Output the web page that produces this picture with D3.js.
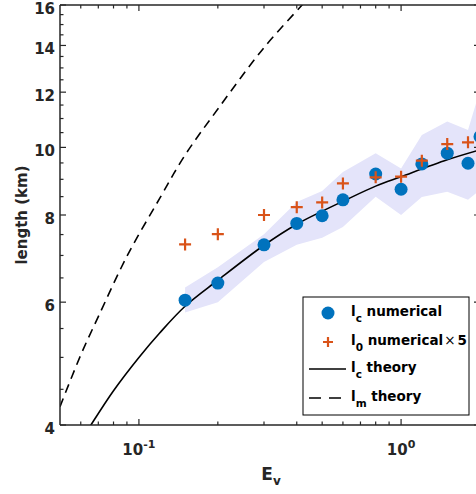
<!DOCTYPE html>
<html>
<head>
<meta charset="utf-8">
<script src="https://cdn.jsdelivr.net/npm/d3@7"></script>
<style>
  body { margin: 0; background: #fff; }
  svg { display: block; font-family: "DejaVu Sans", sans-serif; font-weight: bold; }
</style>
</head>
<body>
<div id="chart"></div>
<script>
// E_v values of the numerical runs
const ev = [0.15, 0.2, 0.3, 0.4, 0.5, 0.6, 0.8, 1.0, 1.2, 1.5, 1.8, 2.0];
// l_c numerical (km)
const lcNum = [6.04, 6.39, 7.25, 7.78, 7.98, 8.41, 9.16, 8.71, 9.47, 9.81, 9.49, 10.36];
// l_0 numerical x 5 (km)
const l0Num = [7.26, 7.51, 8.0, 8.21, 8.34, 8.88, 9.06, 9.08, 9.57, 10.11, 10.17];
// spread of l_c (shaded band)
const bandLow = [5.80, 6.00, 6.85, 7.25, 7.42, 7.69, 8.50, 8.00, 8.49, 8.64, 8.41, 8.69];
const bandHigh = [6.30, 6.73, 7.51, 8.35, 8.66, 9.22, 9.81, 9.33, 10.42, 10.89, 10.59, 12.08];
// l_c theory
const lcTheoryE = [0.06, 0.0656, 0.08, 0.1, 0.12, 0.15, 0.2, 0.3, 0.4, 0.5, 0.6, 0.8, 1.0, 1.5, 2.0];
const lcTheoryL = [3.79, 4.0, 4.48, 5.0, 5.42, 5.92, 6.45, 7.24, 7.76, 8.1, 8.37, 8.8, 9.08, 9.6, 9.92];
// l_m theory
const lmTheoryE = [0.05, 0.06, 0.07, 0.09, 0.12, 0.15, 0.2, 0.3, 0.419, 0.45];
const lmTheoryL = [4.25, 5.04, 5.72, 6.98, 8.45, 9.75, 11.35, 13.9, 16.0, 16.5];

const xTicks = [0.1, 1];
const xMinor = [0.06, 0.07, 0.08, 0.09, 0.2, 0.3, 0.4, 0.5, 0.6, 0.7, 0.8, 0.9, 2];
const yTicks = [4, 6, 8, 10, 12, 14, 16];
const yMinor = d3.range(4.5, 16, 0.5).filter(v => v % 2 !== 0);

const W = 476, H = 494;
const margin = {top: 5, right: -4, bottom: 69, left: 60};
const width = W - margin.left - margin.right;
const height = H - margin.top - margin.bottom;

const svg = d3.select("#chart").append("svg")
    .attr("width", W)
    .attr("height", H);

const g = svg.append("g")
    .attr("transform", `translate(${margin.left},${margin.top})`);

const x = d3.scaleLog().domain([0.05, 2]).range([0, width]);
const y = d3.scaleLog().domain([4, 16]).range([height, 0]);

g.append("clipPath").attr("id", "clip")
  .append("rect").attr("width", width).attr("height", height);

const plot = g.append("g").attr("clip-path", "url(#clip)");

// shaded band
const band = ev.map((e, i) => ({e: e, lo: bandLow[i], hi: bandHigh[i]}));
plot.append("path")
    .datum(band)
    .attr("fill", "#e4e4fa")
    .attr("d", d3.area()
        .x(d => x(d.e))
        .y0(d => y(d.lo))
        .y1(d => y(d.hi)));

// theory curves
const line = d3.line().x(d => x(d[0])).y(d => y(d[1])).curve(d3.curveCatmullRom.alpha(0.5));
plot.append("path")
    .datum(lmTheoryE.map((e, i) => [e, lmTheoryL[i]]))
    .attr("fill", "none")
    .attr("stroke", "#000")
    .attr("stroke-width", 1.6)
    .attr("stroke-dasharray", "9,6")
    .attr("d", line);

plot.append("path")
    .datum(lcTheoryE.map((e, i) => [e, lcTheoryL[i]]))
    .attr("fill", "none")
    .attr("stroke", "#000")
    .attr("stroke-width", 1.6)
    .attr("d", line);

// numerical points
plot.selectAll(".dot")
    .data(ev.map((e, i) => [e, lcNum[i]]))
    .enter().append("circle")
    .attr("class", "dot")
    .attr("cx", d => x(d[0]))
    .attr("cy", d => y(d[1]))
    .attr("r", 6.5)
    .attr("fill", "#0072bd");

plot.selectAll(".plus")
    .data(l0Num.map((v, i) => [ev[i], v]))
    .enter().append("path")
    .attr("class", "plus")
    .attr("transform", d => `translate(${x(d[0])},${y(d[1])})`)
    .attr("d", "M-6,0H6M0,-6V6")
    .attr("stroke", "#d95319")
    .attr("stroke-width", 2.2);

// axes box
const axisColor = "#262626";
g.append("line").attr("x1", 0).attr("x2", 0).attr("y1", 0).attr("y2", height)
    .attr("stroke", axisColor).attr("stroke-width", 1.5);
g.append("line").attr("x1", 0).attr("x2", width).attr("y1", height).attr("y2", height)
    .attr("stroke", axisColor).attr("stroke-width", 1.5);
g.append("line").attr("x1", 0).attr("x2", width).attr("y1", 0).attr("y2", 0)
    .attr("stroke", axisColor).attr("stroke-width", 1.5);
g.append("line").attr("x1", width).attr("x2", width).attr("y1", 0).attr("y2", height)
    .attr("stroke", axisColor).attr("stroke-width", 1.5);

// ticks (pointing inward) on all four sides
function ticksX(vals, len) {
  vals.forEach(v => {
    g.append("line").attr("x1", x(v)).attr("x2", x(v)).attr("y1", height).attr("y2", height - len)
        .attr("stroke", axisColor).attr("stroke-width", 1.2);
    g.append("line").attr("x1", x(v)).attr("x2", x(v)).attr("y1", 0).attr("y2", len)
        .attr("stroke", axisColor).attr("stroke-width", 1.2);
  });
}
function ticksY(vals, len) {
  vals.forEach(v => {
    g.append("line").attr("x1", 0).attr("x2", len).attr("y1", y(v)).attr("y2", y(v))
        .attr("stroke", axisColor).attr("stroke-width", 1.2);
    g.append("line").attr("x1", width).attr("x2", width - len).attr("y1", y(v)).attr("y2", y(v))
        .attr("stroke", axisColor).attr("stroke-width", 1.2);
  });
}
ticksX(xTicks, 6);
ticksX(xMinor, 3.5);
ticksY(yTicks, 6);
ticksY(yMinor, 3.5);

// y tick labels
g.selectAll(".ylab")
    .data(yTicks)
    .enter().append("text")
    .attr("x", -5)
    .attr("y", d => y(d))
    .attr("dy", 9)
    .attr("text-anchor", "end")
    .attr("font-size", 15)
    .attr("fill", axisColor)
    .text(d => d);

// x tick labels: 10^n
xTicks.forEach(v => {
  const t = g.append("text")
      .attr("x", x(v))
      .attr("y", height + 30)
      .attr("text-anchor", "middle")
      .attr("font-size", 15)
      .attr("fill", axisColor);
  t.append("tspan").text("10");
  t.append("tspan").attr("dy", -7).attr("font-size", 11).text(Math.round(Math.log10(v)));
});

// axis titles
const xt = g.append("text")
    .attr("x", 211)
    .attr("y", height + 55)
    .attr("text-anchor", "middle")
    .attr("font-size", 17)
    .attr("fill", axisColor);
xt.append("tspan").text("E");
xt.append("tspan").attr("dy", 5).attr("font-size", 12).text("v");

svg.append("text")
    .attr("transform", `translate(27,215) rotate(-90)`)
    .attr("text-anchor", "middle")
    .attr("font-size", 15)
    .attr("fill", axisColor)
    .text("length (km)");

// legend
const leg = svg.append("g").attr("transform", "translate(303,297)");
leg.append("rect")
    .attr("width", 166).attr("height", 118)
    .attr("fill", "#fff")
    .attr("stroke", "#000")
    .attr("stroke-width", 1);

const legItems = [
  {sym: "dot", main: "l", sub: "c", rest: " numerical", tail: ""},
  {sym: "plus", main: "l", sub: "0", rest: " numerical", tail: "5"},
  {sym: "line", main: "l", sub: "c", rest: " theory", tail: ""},
  {sym: "dash", main: "l", sub: "m", rest: " theory", tail: ""}
];
const rowY = [16, 45, 72, 101];
legItems.forEach((d, i) => {
  const ry = rowY[i];
  if (d.sym === "dot") {
    leg.append("circle").attr("cx", 25).attr("cy", ry).attr("r", 6.5).attr("fill", "#0072bd");
  } else if (d.sym === "plus") {
    leg.append("path").attr("transform", `translate(25,${ry})`).attr("d", "M-5,0H5M0,-5V5")
        .attr("stroke", "#d95319").attr("stroke-width", 2.2);
  } else {
    leg.append("line").attr("x1", 6).attr("x2", 43).attr("y1", ry).attr("y2", ry)
        .attr("stroke", "#000").attr("stroke-width", 1.6)
        .attr("stroke-dasharray", d.sym === "dash" ? "12,8" : null);
  }
  const t = leg.append("text")
      .attr("x", 48)
      .attr("y", ry + 3)
      .attr("font-size", 13.5)
      .attr("fill", "#000");
  t.append("tspan").text(d.main);
  t.append("tspan").attr("dy", 6).attr("font-size", 10.5).text(d.sub);
  t.append("tspan").attr("dy", -6).text(d.rest);
  if (d.tail) {
    t.append("tspan").attr("font-weight", "normal").attr("dx", 1).text("×");
    t.append("tspan").attr("dx", 2).text(d.tail);
  }
});
</script>
</body>
</html>
